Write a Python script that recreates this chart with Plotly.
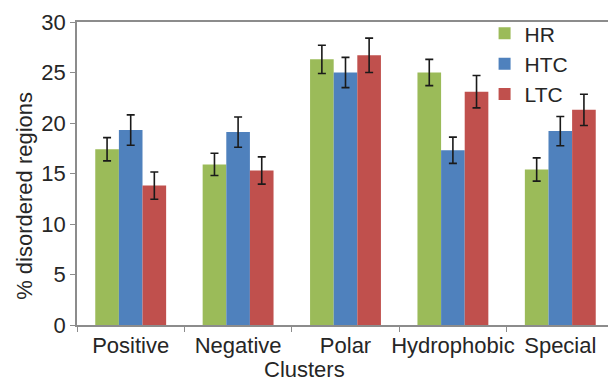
import plotly.graph_objects as go

categories = ["Positive", "Negative", "Polar", "Hydrophobic", "Special"]
series_names = ["HR", "HTC", "LTC"]
hr_values = [17.4, 15.9, 26.3, 25.0, 15.4]
htc_values = [19.3, 19.1, 25.0, 17.3, 19.2]
ltc_values = [13.8, 15.3, 26.7, 23.1, 21.3]
hr_err = [1.15, 1.1, 1.4, 1.3, 1.15]
htc_err = [1.5, 1.5, 1.5, 1.3, 1.45]
ltc_err = [1.35, 1.35, 1.7, 1.6, 1.55]
y_ticks = [0, 5, 10, 15, 20, 25, 30]
x_title = "Clusters"
y_title = "% disordered regions"

colors = ["#9BBB59", "#4F81BD", "#C0504D"]
FONT = "Liberation Sans, Arial, sans-serif"
TXT = "#262626"
AX = "#8c8c8c"

fig = go.Figure()
for name, vals, errs, col in zip(series_names, [hr_values, htc_values, ltc_values],
                                 [hr_err, htc_err, ltc_err], colors):
    fig.add_trace(go.Bar(
        x=categories, y=vals, name=name,
        marker=dict(color=col, line=dict(width=0)),
        error_y=dict(type="data", array=errs, visible=True, color="#1a1a1a",
                     thickness=1.6, width=4),
    ))

fig.add_annotation(text=x_title, xref="paper", yref="paper", x=0.423, y=-0.148,
                   xanchor="center", yanchor="middle", showarrow=False,
                   font=dict(size=22, color=TXT, family=FONT))
fig.add_annotation(text=y_title, xref="paper", yref="paper", x=-0.097, y=0.426,
                   xanchor="center", yanchor="middle", showarrow=False, textangle=-90,
                   font=dict(size=22, color=TXT, family=FONT))

# page body has an 8px margin, so the figure is 8px smaller and shifted
fig.update_layout(
    width=608, height=373,
    margin=dict(l=69, r=2, t=14, b=56),
    paper_bgcolor="white", plot_bgcolor="white",
    barmode="group", bargap=0.34, bargroupgap=0,
    font=dict(family=FONT, size=22, color=TXT),
    showlegend=True,
    legend=dict(x=0.759, y=1.029, xanchor="left", yanchor="top",
                bgcolor="rgba(0,0,0,0)", font=dict(size=21, color=TXT),
                tracegroupgap=0, itemwidth=30),
    xaxis=dict(
        showline=True, linecolor=AX, linewidth=1.5, mirror=True,
        ticks="outside", ticklen=5, tickcolor=AX, tickson="boundaries",
        tickangle=0, automargin=False,
        tickfont=dict(size=22, color=TXT),
        showgrid=False,
    ),
    yaxis=dict(
        range=[0, 30], tickvals=y_ticks, automargin=False,
        showline=True, linecolor=AX, linewidth=1.5, mirror=True,
        ticks="outside", ticklen=5, tickcolor=AX,
        tickfont=dict(size=22, color=TXT),
        showgrid=False, zeroline=False,
    ),
)

fig.write_html("out.html")
